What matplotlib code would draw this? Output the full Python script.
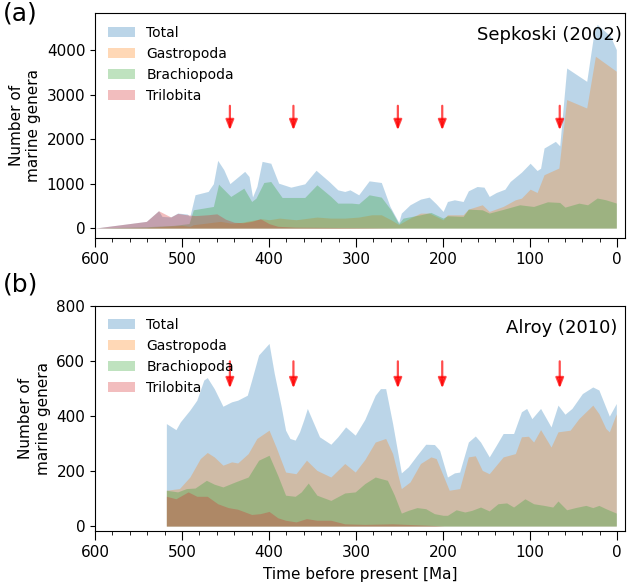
import matplotlib
matplotlib.use("Agg")
import matplotlib.pyplot as plt
from matplotlib.ticker import MultipleLocator

# ---------------- data: (a) Sepkoski (2002) ----------------
sep_total_age = [600, 541, 527, 523, 513, 505, 494, 491, 485, 470, 464, 459, 452, 445,
                 428, 423, 419, 414, 408, 398, 389, 375, 359, 346, 331, 321, 313, 307,
                 297, 285, 271, 261, 251, 248, 238, 226, 216, 208, 200, 195, 187, 177,
                 171, 161, 153, 147, 139, 129, 123, 110, 100, 92, 88, 84, 71, 66, 58,
                 35, 27, 23, 8, 1]
sep_total = [0, 150, 390, 262, 250, 338, 315, 262, 750, 824, 998, 1523, 1313, 1000,
             1275, 1160, 700, 937, 1500, 1458, 1010, 920, 995, 1300, 1047, 860, 823, 860,
             748, 1062, 1025, 486, 127, 337, 524, 651, 696, 546, 374, 598, 636, 598,
             838, 935, 920, 711, 800, 875, 1047, 1257, 1458, 1294, 1346, 1800, 1950, 1850,
             3600, 3300, 4350, 4580, 4320, 4016]

sep_gastro_age = [600, 541, 520, 500, 491, 487, 456, 444, 432, 420, 408, 400, 388, 369,
                  345, 329, 313, 297, 282, 271, 260, 251, 238, 226, 216, 200, 195, 177,
                  171, 155, 147, 131, 117, 110, 100, 92, 84, 67, 58, 35, 25, 1]
sep_gastro = [0, 10, 40, 60, 37, 75, 150, 112, 127, 172, 209, 187, 224, 187,
              247, 224, 224, 247, 299, 299, 187, 80, 224, 337, 337, 187, 299, 299,
              426, 524, 374, 486, 636, 673, 875, 800, 1200, 1350, 2890, 2700, 3865, 3527]

sep_brach_age = [600, 541, 510, 492, 487, 464, 458, 444, 429, 420, 415, 406, 398, 385,
                 359, 345, 329, 321, 305, 297, 285, 271, 260, 251, 246, 226, 214, 200,
                 195, 177, 171, 155, 147, 131, 112, 96, 80, 66, 60, 44, 34, 23, 13, 1]
sep_brach = [0, 30, 60, 100, 411, 486, 987, 711, 898, 598, 673, 1025, 1047, 688,
             688, 972, 711, 561, 561, 546, 748, 696, 411, 100, 224, 299, 352, 224,
             277, 262, 426, 411, 337, 420, 524, 486, 591, 576, 471, 561, 524, 676, 636, 563]

sep_trilo_age = [600, 541, 527, 513, 505, 495, 485, 470, 460, 450, 440, 430, 420, 410,
                 400, 390, 370, 300, 250, 240, 1]
sep_trilo = [0, 150, 390, 250, 330, 300, 280, 300, 320, 200, 130, 120, 150, 210,
             100, 40, 20, 10, 0, 0, 0]

# ---------------- data: (b) Alroy (2010) ----------------
alr_total_age = [518, 507, 502, 491, 483, 475, 471, 463, 453, 443, 436, 425, 420, 412,
                 400, 394, 386, 381, 376, 370, 365, 360, 356, 351, 342, 329, 321, 312,
                 301, 290, 278, 272, 266, 258, 248, 240, 230, 220, 210, 204, 195, 187,
                 181, 171, 163, 157, 147, 139, 131, 119, 110, 104, 98, 88, 76, 68, 60,
                 52, 40, 28, 21, 9, 1]
alr_total = [372, 350, 378, 421, 457, 530, 539, 499, 435, 451, 457, 475, 530, 621,
             663, 554, 433, 348, 318, 312, 342, 387, 427, 390, 324, 297, 324, 360,
             330, 387, 475, 499, 499, 372, 193, 215, 257, 297, 296, 275, 178, 193,
             196, 305, 327, 305, 251, 293, 336, 336, 415, 427, 390, 427, 360, 439, 406,
             427, 481, 505, 494, 399, 445]

alr_gastro_age = [518, 503, 491, 479, 471, 463, 453, 443, 436, 424, 414, 400, 392, 381,
                  369, 357, 345, 329, 313, 301, 290, 278, 266, 258, 248, 238, 226, 214,
                  208, 200, 193, 181, 171, 163, 155, 147, 131, 117, 110, 102, 96, 88,
                  76, 68, 54, 44, 28, 21, 13, 9, 1]
alr_gastro = [130, 136, 178, 245, 267, 251, 221, 233, 229, 263, 318, 348, 287, 196,
              190, 239, 202, 178, 227, 196, 241, 305, 318, 263, 136, 160, 227, 251,
              245, 184, 130, 136, 251, 255, 202, 190, 251, 263, 324, 326, 305, 350,
              287, 342, 348, 390, 439, 408, 354, 342, 408]

alr_brach_age = [518, 505, 495, 485, 472, 463, 453, 439, 424, 412, 400, 390, 381, 370,
                 363, 355, 345, 329, 313, 301, 290, 278, 264, 256, 248, 240, 230, 220,
                 210, 200, 195, 185, 175, 167, 157, 147, 137, 127, 119, 106, 96, 84,
                 74, 68, 58, 48, 36, 28, 21, 13, 1]
alr_brach = [130, 124, 136, 138, 166, 152, 142, 160, 178, 239, 257, 184, 112, 108,
             124, 156, 112, 93, 120, 124, 154, 178, 166, 112, 47, 57, 67, 63,
             45, 39, 39, 59, 51, 57, 69, 55, 81, 84, 69, 99, 81, 75,
             69, 91, 59, 67, 75, 67, 75, 63, 47]

alr_trilo_age = [518, 507, 493, 483, 471, 459, 447, 436, 420, 410, 400, 390, 381, 369,
                 357, 345, 329, 313, 290, 258, 210, 199, 1]
alr_trilo = [108, 99, 124, 108, 108, 81, 67, 61, 42, 45, 53, 30, 21, 15,
             27, 21, 21, 8, 6, 8, 2, 0, 0]

extinctions = [445, 372, 252, 201, 66]

labels = ["Total", "Gastropoda", "Brachiopoda", "Trilobita"]
colors = ["tab:blue", "tab:orange", "tab:green", "tab:red"]

plt.rcParams["font.family"] = "DejaVu Sans"
plt.rcParams["font.size"] = 11

fig = plt.figure(figsize=(6.28, 5.88), dpi=100)
ax1 = fig.add_axes([95 / 628, 1 - 238.3 / 588, 530 / 628, 225 / 588])
ax2 = fig.add_axes([95 / 628, 1 - 531 / 588, 530 / 628, 225.3 / 588])

panels = [
    (ax1, [(sep_total_age, sep_total), (sep_gastro_age, sep_gastro),
           (sep_brach_age, sep_brach), (sep_trilo_age, sep_trilo)],
     "Sepkoski (2002)", (2750, 2200), (-230, 4830), (0.995, 0.945)),
    (ax2, [(alr_total_age, alr_total), (alr_gastro_age, alr_gastro),
           (alr_brach_age, alr_brach), (alr_trilo_age, alr_trilo)],
     "Alroy (2010)", (598, 500), (-18, 800), (0.985, 0.94)),
]

for ax, series, title, (a_top, a_tip), ylim, tpos in panels:
    for (xs, ys), lab, col in zip(series, labels, colors):
        ax.fill_between(xs, 0, ys, color=col, alpha=0.3, linewidth=0, label=lab)
    for e in extinctions:
        ax.annotate("", xy=(e, a_tip), xytext=(e, a_top),
                    arrowprops=dict(arrowstyle="-|>,head_width=0.22,head_length=0.55",
                                    color="red", alpha=0.7, lw=1.6,
                                    shrinkA=0, shrinkB=0), zorder=5)
    ax.set_xlim(600, -9)
    ax.set_ylim(*ylim)
    ax.xaxis.set_major_locator(MultipleLocator(100))
    ax.xaxis.set_minor_locator(MultipleLocator(20))
    ax.tick_params(axis="x", which="major", length=6.5)
    ax.tick_params(axis="x", which="minor", length=3.2)
    ax.set_ylabel("Number of\nmarine genera")
    ax.legend(loc="upper left", frameon=False, fontsize=10)
    ax.text(tpos[0], tpos[1], title, transform=ax.transAxes, ha="right", va="top",
            fontsize=13)

ax2.set_xlabel("Time before present [Ma]", labelpad=5)

fig.text(0.004, 0.997, "(a)", fontsize=18, ha="left", va="top")
fig.text(0.004, 1 - 272 / 588, "(b)", fontsize=18, ha="left", va="top")

fig.savefig("out.png", dpi=100)
